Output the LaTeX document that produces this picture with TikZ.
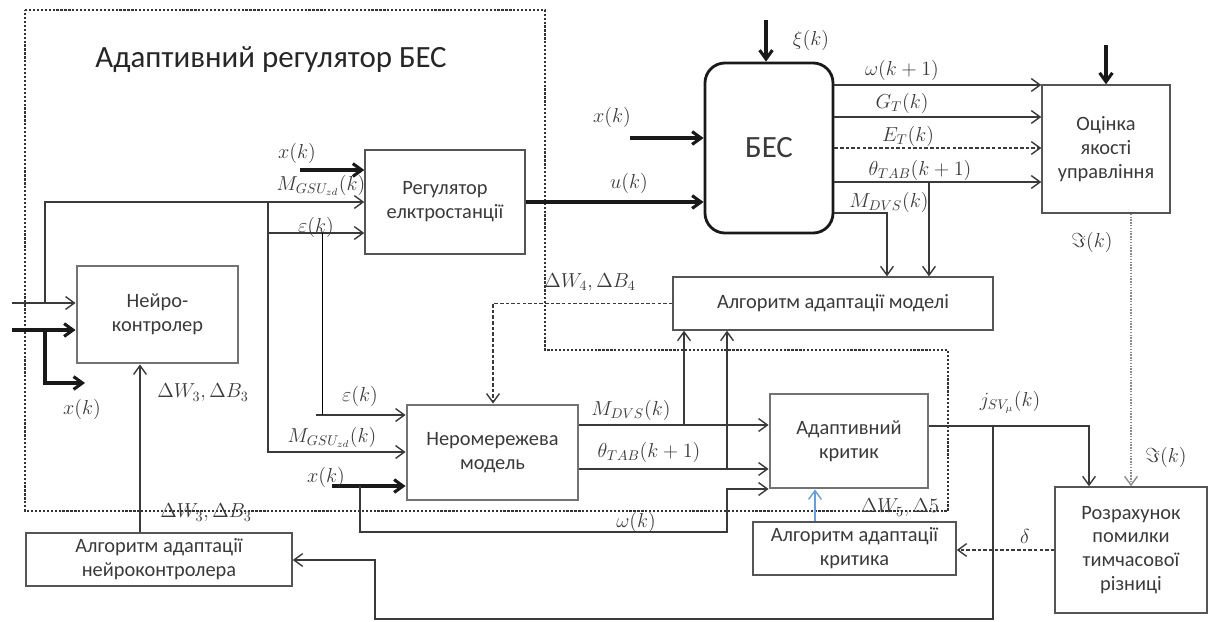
\documentclass[tikz,border=0pt]{standalone}
\usepackage{fontspec}
\setmainfont{Carlito}
\usetikzlibrary{arrows.meta,positioning}
\definecolor{ink}{HTML}{3A3A3A}
\definecolor{frame}{HTML}{555555}
\definecolor{critblue}{HTML}{6A9ED6}

\begin{document}
\begin{tikzpicture}[x=0.025cm, y=-0.025cm,
  blk/.style={draw=frame, line width=1pt, align=center, inner sep=2pt,
    font=\fontsize{14.5}{17}\selectfont, text=ink},
  blkthick/.style={blk, line width=2pt, draw=black!55},
  plant/.style={blk, line width=2pt, draw=black!90, rounded corners=0.5cm,
    font=\fontsize{22}{24}\selectfont},
  lbl/.style={font=\fontsize{14}{16}\selectfont, text=ink, inner sep=1pt},
  sig/.style={-{Straight Barb[length=2.2mm,width=3.2mm]}, line width=1pt, ink},
  bold/.style={line width=2.2pt, black!90},
  dsh/.style={dash pattern=on 2.5pt off 1.5pt},
  bound/.style={line width=1pt, black!80, dash pattern=on 1.6pt off 1.2pt}
]
\useasboundingbox (0,0) rectangle (1209,621);

% adaptive controller region
\draw[bound] (25,10) -- (545,10) -- (545,350) -- (948,350) -- (948,511)
  -- (25,511) -- cycle;
\node[font=\fontsize{22}{25}\selectfont, text=black!85] (title) at (271,60)
  {Адаптивний регулятор БЕС};

% blocks
\node[blk, minimum width=4cm, minimum height=2.6cm] (reg) at (445,202)
  {Регулятор\\елктростанції};
\node[blkthick, minimum width=4.025cm, minimum height=2.425cm] (neuro) at (157.5,314.5)
  {Нейро-\\контролер};
\node[blk, minimum width=6.65cm, minimum height=1.325cm] (algnc) at (159,559.5)
  {Алгоритм адаптації\\нейроконтролера};
\node[blkthick, minimum width=4.275cm, minimum height=2.375cm] (model) at (492.5,452.5)
  {Неромережева\\модель};
\node[blkthick, minimum width=3.95cm, minimum height=2.35cm] (critic) at (849,441)
  {Адаптивний\\критик};
\node[blk, minimum width=5.075cm, minimum height=1.325cm] (algcr) at (854.5,548.5)
  {Алгоритм адаптації\\критика};
\node[blk, minimum width=8cm, minimum height=1.325cm] (algm) at (833,303.5)
  {Алгоритм адаптації моделі};
\node[plant, minimum width=3.2cm, minimum height=4.25cm] (bes) at (769,148) {БЕС};
\node[blk, minimum width=3.2cm, minimum height=3.2cm] (oc) at (1106,149)
  {Оцінка\\якості\\управління};
\node[blk, minimum width=3.8cm, minimum height=3.15cm] (rozr) at (1131,550)
  {Розрахунок\\помилки\\тимчасової\\різниці};

% free ends and branch points
\coordinate (in1) at (12,303);
\coordinate (in2) at (12,330);
\coordinate (xreg) at (300,170);
\coordinate (xmod) at (332,486);
\coordinate (xbes) at (630,138);
\coordinate (xi) at (766,20);
\coordinate (ocin) at (1106,45);

% neurocontroller inputs
\draw[sig] (in1) -- (neuro.west |- in1);
\draw[sig, bold] (in2) -- (neuro.west |- in2);
\draw[sig, bold] (45,330) -- (45,383) -- (85,383);
\node[lbl] (xout) at (82,409) {$x(k)$};
\draw[sig] (45,303) -- (45,202) -- (reg.west |- 0,202);

% regulator inputs
\draw[sig, bold] (xreg) -- (reg.west |- xreg);
\node[lbl] (lxreg) at (297,153) {$x(k)$};
\node[lbl] (lmreg) at (321,185) {$M_{GSU_{zd}}(k)$};
\draw[sig] (268,202) -- (268,452) -- (model.west |- 0,452);
\draw[sig] (268,233) -- (reg.west |- 0,233);
\node[lbl] (lereg) at (316,227) {$\varepsilon(k)$};

% model inputs
\draw[sig] (316,415) -- (model.west |- 0,415);
\draw (322,233) -- (322,415);
\node[lbl] (lemod) at (360,396) {$\varepsilon(k)$};
\node[lbl] (lmmod) at (332,437) {$M_{GSU_{zd}}(k)$};
\draw[sig, bold] (xmod) -- (model.west |- xmod);
\node[lbl] (lxmod) at (326,477) {$x(k)$};
\draw[sig] (360,486) -- (360,532) -- (727,532) -- (727,489) -- (critic.west |- 0,489);
\node[lbl] (lw) at (636,522) {$\omega(k)$};

% model outputs
\draw[sig] (model.east |- 0,425) -- (critic.west |- 0,425);
\node[lbl] (lmdvs) at (631,410) {$M_{DVS}(k)$};
\draw[sig] (model.east |- 0,469) -- (critic.west |- 0,469);
\node[lbl] (ltheta) at (649,452) {$\theta_{TAB}(k+1)$};
\draw[sig] (684,425) -- (algm.south -| 684,0);
\draw[sig] (727,469) -- (algm.south -| 727,0);

% model adaptation
\draw[sig, dsh] (algm.west) -- (493,303.5) -- (model.north -| 493,0);
\node[lbl] (ldw4) at (590,283) {$\Delta W_4,\Delta B_4$};

% plant
\draw[sig, bold] (reg.east) -- (bes.west |- reg.east);
\node[lbl] (lu) at (629,183) {$u(k)$};
\draw[sig, bold] (xbes) -- (bes.west |- xbes);
\node[lbl] (lxbes) at (612,117) {$x(k)$};
\draw[sig, bold] (xi) -- (bes.north -| xi);
\node[lbl] (lxi) at (811,40) {$\xi(k)$};

% plant outputs
\draw[sig] (bes.east |- 0,85) -- (oc.west |- 0,85);
\node[lbl] (lw1) at (902,70) {$\omega(k+1)$};
\draw[sig] (bes.east |- 0,117) -- (oc.west |- 0,117);
\node[lbl] (lg) at (902,103) {$G_T(k)$};
\draw[sig, dsh] (bes.east |- 0,148) -- (oc.west |- 0,148);
\node[lbl] (le) at (908,136) {$E_T(k)$};
\draw[sig] (bes.east |- 0,182) -- (oc.west |- 0,182);
\node[lbl] (lt) at (920,170) {$\theta_{TAB}(k+1)$};
\draw[sig] (bes.east |- 0,213) -- (887,213) -- (algm.north -| 887,0);
\node[lbl] (lmd) at (889,202) {$M_{DVS}(k)$};
\draw[sig] (929,182) -- (algm.north -| 929,0);
\draw[sig, bold] (ocin) -- (oc.north);

% quality estimate
\draw[sig, black!45, dash pattern=on 1pt off 1pt] (rozr.north |- oc.south) -- (rozr.north);
\node[lbl] (lim1) at (1092,242) {$\Im(k)$};
\node[lbl] (lim2) at (1166,457) {$\Im(k)$};

% critic output
\draw[sig] (critic.east |- 0,426) -- (1089,426) -- (rozr.north -| 1089,0);
\node[lbl] (lj) at (1010,402) {$j_{SV_\mu}(k)$};
\draw[sig] (993,426) -- (993,619) -- (375,619) -- (375,560) -- (algnc.east |- 0,560);

% critic adaptation
\draw[sig, dsh] (rozr.west |- 0,550) -- (algcr.east |- 0,550);
\node[lbl] (ld) at (1025,536) {$\delta$};
\draw[sig, critblue] (algcr.north -| 815,0) -- (critic.south -| 815,0);
\node[lbl] (ldw5) at (900,508) {$\Delta W_5,\Delta 5$};

% neurocontroller adaptation
\draw[sig] (algnc.north -| 140,0) -- (neuro.south -| 140,0);
\node[lbl] (ldw3) at (203,393) {$\Delta W_3,\Delta B_3$};
\node[lbl] (ldw3b) at (206,513) {$\Delta W_3,\Delta B_3$};
\end{tikzpicture}
\end{document}
